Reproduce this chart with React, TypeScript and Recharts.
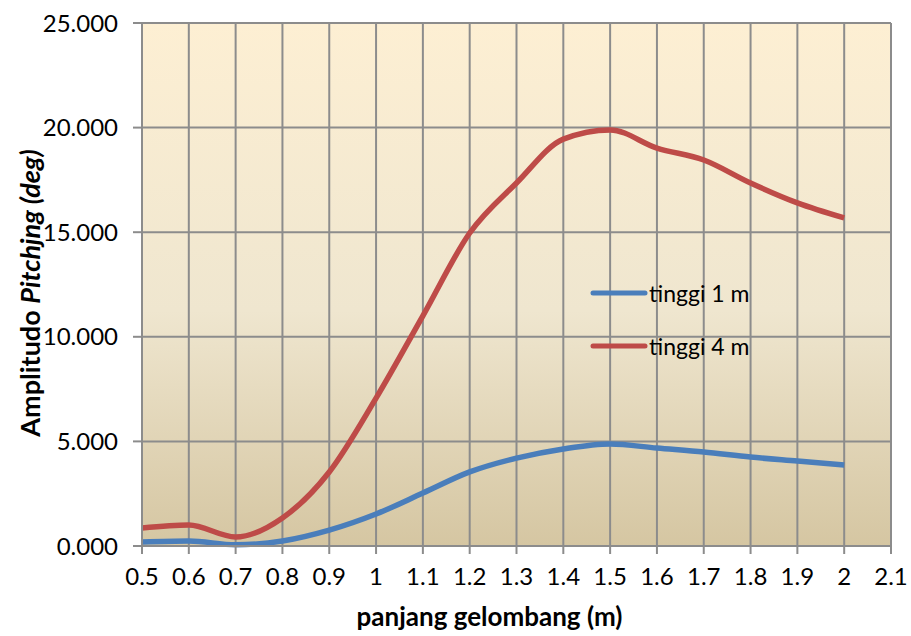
import { LineChart, Line, XAxis, YAxis, CartesianGrid } from "recharts";

const panjang = [0.5, 0.6, 0.7, 0.8, 0.9, 1, 1.1, 1.2, 1.3, 1.4, 1.5, 1.6, 1.7, 1.8, 1.9, 2];
const tinggi1 = [0.19, 0.24, 0.06, 0.24, 0.76, 1.53, 2.53, 3.54, 4.2, 4.64, 4.88, 4.68, 4.49, 4.25, 4.06, 3.87];
const tinggi4 = [0.86, 1.0, 0.43, 1.34, 3.54, 7.07, 11.0, 14.96, 17.35, 19.45, 19.89, 19.02, 18.45, 17.35, 16.4, 15.68];
const xTicks = [0.5, 0.6, 0.7, 0.8, 0.9, 1, 1.1, 1.2, 1.3, 1.4, 1.5, 1.6, 1.7, 1.8, 1.9, 2, 2.1];
const yTicks = [0, 5, 10, 15, 20, 25];

const data = panjang.map((p, i) => ({ p, t1: tinggi1[i], t4: tinggi4[i] }));

const FONT = "Lato, 'Open Sans', sans-serif";
const GRID = "#8c8c8c";

// rotated y title with italic part, drawn by hand
const YLabel = () => (
  <text
    x={29}
    y={293}
    transform="rotate(-90 29 293)"
    textAnchor="middle"
    dominantBaseline="central"
    fontFamily={FONT}
    fontSize={27}
    fontWeight="bold"
    fill="#000"
  >
    Amplitudo <tspan fontStyle="italic">Pitchjng (deg)</tspan>
  </text>
);

const series = [
  { name: "tinggi 1 m", color: "#4a7ebb" },
  { name: "tinggi 4 m", color: "#be4b48" },
];

export default function App() {
  return (
    <div style={{ position: "absolute", left: 0, top: 0, background: "#fff" }}>
      <LineChart width={911} height={636} data={data} margin={{ top: 23, right: 20, left: 0, bottom: 0 }}>
        <defs>
          <linearGradient id="bg" x1="0" y1="0" x2="0" y2="1">
            <stop offset="0%" stopColor="#fdefd3" />
            <stop offset="55%" stopColor="#efe6cf" />
            <stop offset="100%" stopColor="#d5c6a2" />
          </linearGradient>
        </defs>
        <CartesianGrid stroke={GRID} strokeWidth={2} fill="url(#bg)" fillOpacity={1} />
        <XAxis
          dataKey="p"
          type="number"
          domain={[0.5, 2.1]}
          ticks={xTicks}
          tickFormatter={(v: number) => String(v)}
          interval={0}
          stroke={GRID}
          strokeWidth={2}
          tickSize={8}
          tickMargin={14}
          height={90}
          tick={{ fill: "#000", fontSize: 24, fontFamily: FONT }}
          label={{
            value: "panjang gelombang (m)",
            position: "insideBottom",
            offset: 10,
            dx: -27,
            fill: "#000",
            fontSize: 26,
            fontWeight: "bold",
            fontFamily: FONT,
          }}
        />
        <YAxis
          type="number"
          domain={[0, 25]}
          ticks={yTicks}
          tickFormatter={(v: number) => v.toFixed(3)}
          stroke={GRID}
          strokeWidth={2}
          width={142}
          tickSize={9}
          tickMargin={15}
          tick={{ fill: "#000", fontSize: 24, fontFamily: FONT }}
          label={<YLabel />}
        />
        <Line
          dataKey="t1"
          name="tinggi 1 m"
          type="monotone"
          stroke="#4a7ebb"
          strokeWidth={5.5}
          dot={false}
          isAnimationActive={false}
        />
        <Line
          dataKey="t4"
          name="tinggi 4 m"
          type="monotone"
          stroke="#be4b48"
          strokeWidth={5.5}
          dot={false}
          isAnimationActive={false}
        />
      </LineChart>
      <div
        style={{
          position: "absolute",
          left: 590,
          top: 266,
          fontFamily: FONT,
          fontSize: 23,
          color: "#000",
        }}
      >
        {series.map((it) => (
          <div key={it.name} style={{ display: "flex", alignItems: "center", height: 53 }}>
            <svg width={58} height={10}>
              <line x1={3} y1={5} x2={55} y2={5} stroke={it.color} strokeWidth={5} strokeLinecap="round" />
            </svg>
            <span style={{ marginLeft: 1 }}>{it.name}</span>
          </div>
        ))}
      </div>
    </div>
  );
}
